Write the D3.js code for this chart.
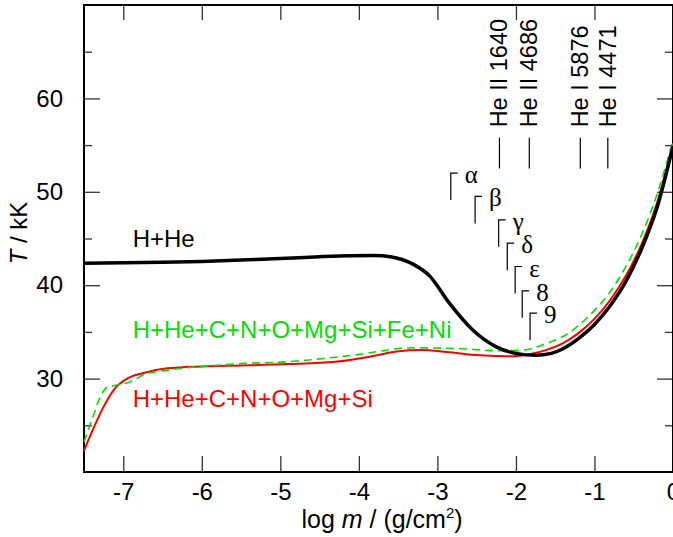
<!DOCTYPE html>
<html>
<head>
<meta charset="utf-8">
<script src="https://cdn.jsdelivr.net/npm/d3@7"></script>
<style>
  body { margin: 0; background: #fff; }
  svg { display: block; }
</style>
</head>
<body>
<svg id="chart" width="673" height="537"></svg>
<script>
// H+He model
const heLogM = [-7.5, -6.5, -6.0, -5.5, -5.0, -4.5, -4.1, -3.8, -3.6, -3.45, -3.3, -3.1, -2.85, -2.55, -2.25, -2.0, -1.75, -1.55, -1.4, -1.2, -1.0, -0.8, -0.6, -0.4, -0.2, 0];
const heT = [42.35, 42.45, 42.55, 42.7, 42.85, 43.05, 43.16, 43.18, 43.05, 42.75, 42.2, 41.0, 38.1, 35.2, 33.4, 32.7, 32.5, 32.7, 33.2, 34.3, 35.8, 37.8, 40.4, 43.9, 48.4, 54.9];

// H+He+C+N+O+Mg+Si+Fe+Ni model (dashed)
const feLogM = [-7.5, -7.37, -7.29, -7.2, -7.08, -6.9, -6.74, -6.44, -6.0, -5.5, -4.92, -4.08, -3.3, -2.7, -2.25, -1.96, -1.6, -1.4, -1.2, -1.0, -0.8, -0.6, -0.4, -0.2, 0];
const feT = [23.2, 26.3, 28.1, 29.1, 29.3, 29.7, 30.4, 30.9, 31.3, 31.6, 31.8, 32.5, 33.3, 33.2, 33.0, 33.0, 33.8, 34.5, 35.7, 37.3, 39.3, 42.0, 45.4, 49.8, 55.5];

// H+He+C+N+O+Mg+Si model
const cnoLogM = [-7.5, -7.37, -7.25, -7.12, -6.95, -6.74, -6.44, -6.0, -5.5, -4.9, -4.3, -3.86, -3.52, -3.2, -2.88, -2.46, -2.04, -1.83, -1.6, -1.4, -1.2, -1.0, -0.8, -0.6, -0.4, -0.2, 0];
const cnoT = [22.3, 24.85, 27.0, 28.8, 30.0, 30.6, 31.1, 31.3, 31.4, 31.55, 31.8, 32.35, 32.9, 33.05, 32.85, 32.5, 32.4, 32.6, 33.1, 33.8, 34.9, 36.4, 38.4, 41.0, 44.4, 48.9, 55.2];

const seriesNames = ['H+He', 'H+He+C+N+O+Mg+Si+Fe+Ni', 'H+He+C+N+O+Mg+Si'];

// line formation depths
const lineNames = ['He II 1640', 'He II 4686', 'He I 5876', 'He I 4471'];
const lineLogM = [-2.21, -1.83, -1.18, -0.83];

const greekNames = ['α', 'β', 'γ', 'δ', 'ε', '8', '9'];
const greekLogM = [-2.83, -2.52, -2.22, -2.11, -2.01, -1.92, -1.82];
const greekT = [52.0, 49.5, 47.0, 44.5, 42.0, 39.4, 37.0];

const xTicks = [-7, -6, -5, -4, -3, -2, -1, 0];
const yMajor = [30, 40, 50, 60];
const yMinor = [25, 35, 45, 55, 65];

const sans = '"Liberation Sans", Arial, sans-serif';
const serif = '"Liberation Serif", "Times New Roman", serif';
const fs = 24;

const svg = d3.select('#chart').style('font-family', sans);
svg.append('rect').attr('width', 673).attr('height', 537).attr('fill', '#fff');

const x = d3.scaleLinear().domain([-7.5, 0]).range([84, 673]);
const y = d3.scaleLinear().domain([20, 70]).range([472, 5]);

const tickColor = '#333';

// axes (ticks point inward)
const styleAxis = (sel) => {
  sel.select('.domain').remove();
  sel.selectAll('.tick line').attr('stroke', tickColor).attr('stroke-width', 1.3);
  sel.selectAll('text').style('font-family', sans).style('font-size', fs + 'px').attr('fill', '#000');
};

svg.append('g')
  .attr('transform', `translate(0,${y(20)})`)
  .call(d3.axisBottom(x).tickValues(xTicks).tickSize(-16).tickPadding(11).tickFormat(d => String(d)))
  .call(styleAxis);

svg.append('g')
  .attr('transform', `translate(0,${y(70)})`)
  .call(d3.axisTop(x).tickValues(xTicks).tickSize(-15).tickFormat(''))
  .call(styleAxis);

svg.append('g')
  .attr('transform', `translate(${x(-7.5)},0)`)
  .call(d3.axisLeft(y).tickValues(yMajor).tickSize(-16).tickPadding(21).tickFormat(d => String(d)))
  .call(styleAxis);

svg.append('g')
  .attr('transform', `translate(${x(-7.5)},0)`)
  .call(d3.axisLeft(y).tickValues(yMinor).tickSize(-8).tickFormat(''))
  .call(styleAxis);

svg.append('g')
  .attr('transform', `translate(${x(0)},0)`)
  .call(d3.axisRight(y).tickValues(yMajor).tickSize(-16).tickFormat(''))
  .call(styleAxis);

svg.append('g')
  .attr('transform', `translate(${x(0)},0)`)
  .call(d3.axisRight(y).tickValues(yMinor).tickSize(-8).tickFormat(''))
  .call(styleAxis);

// frame
svg.append('rect')
  .attr('x', x(-7.5)).attr('y', y(70))
  .attr('width', x(0) - x(-7.5)).attr('height', y(20) - y(70))
  .attr('fill', 'none').attr('stroke', '#000').attr('stroke-width', 2);

// curves
const line = d3.line()
  .x(d => x(d[0]))
  .y(d => y(d[1]))
  .curve(d3.curveMonotoneX);

const plot = svg.append('g');

plot.append('path')
  .datum(d3.zip(cnoLogM, cnoT))
  .attr('d', line)
  .attr('fill', 'none').attr('stroke', '#ff0000').attr('stroke-width', 2);

plot.append('path')
  .datum(d3.zip(feLogM, feT))
  .attr('d', line)
  .attr('fill', 'none').attr('stroke', '#00e000').attr('stroke-width', 1.6)
  .attr('stroke-dasharray', '8,5');

plot.append('path')
  .datum(d3.zip(heLogM, heT))
  .attr('d', line)
  .attr('fill', 'none').attr('stroke', '#000').attr('stroke-width', 3.5);

// curve labels
const labelColors = ['#000', '#00e000', '#ff0000'];
const labelT = [44.1, 34.3, 27.0];
svg.selectAll('text.series')
  .data(seriesNames)
  .join('text')
  .attr('class', 'series')
  .attr('x', x(-6.88))
  .attr('y', (d, i) => y(labelT[i]))
  .style('font-size', fs + 'px')
  .attr('fill', (d, i) => labelColors[i])
  .text(d => d);

// He line markers
const heG = svg.append('g');
heG.selectAll('line')
  .data(lineLogM)
  .join('line')
  .attr('x1', d => x(d)).attr('x2', d => x(d))
  .attr('y1', y(55.8)).attr('y2', y(52.5))
  .attr('stroke', '#000').attr('stroke-width', 1.2);

heG.selectAll('text')
  .data(lineNames)
  .join('text')
  .attr('transform', (d, i) => `translate(${x(lineLogM[i]) + 8},${y(56.9)}) rotate(-90)`)
  .style('font-size', '23.5px')
  .attr('fill', '#000')
  .text(d => d);

// greek series markers
const grG = svg.append('g');
grG.selectAll('path')
  .data(greekLogM)
  .join('path')
  .attr('d', (d, i) => {
    const px = x(d), py = y(greekT[i]);
    return `M${px},${py + 27}V${py}H${px + 7}`;
  })
  .attr('fill', 'none').attr('stroke', '#000').attr('stroke-width', 1.2);

grG.selectAll('text')
  .data(greekNames)
  .join('text')
  .attr('x', (d, i) => x(greekLogM[i]) + 14)
  .attr('y', (d, i) => y(greekT[i]) + 10)
  .style('font-family', serif)
  .style('font-size', '25px')
  .attr('fill', '#000')
  .text(d => d);

// axis titles
const xt = svg.append('text')
  .attr('x', 382).attr('y', 528)
  .attr('text-anchor', 'middle')
  .style('font-size', '25px');
xt.append('tspan').text('log ');
xt.append('tspan').style('font-style', 'italic').text('m');
xt.append('tspan').text(' / (g/cm');
xt.append('tspan').style('font-size', '15px').attr('dy', -10).text('2');
xt.append('tspan').attr('dy', 10).text(')');

const yt = svg.append('text')
  .attr('transform', 'translate(27,233) rotate(-90)')
  .attr('text-anchor', 'middle')
  .style('font-size', fs + 'px');
yt.append('tspan').style('font-style', 'italic').text('T');
yt.append('tspan').text(' / kK');
</script>
</body>
</html>
